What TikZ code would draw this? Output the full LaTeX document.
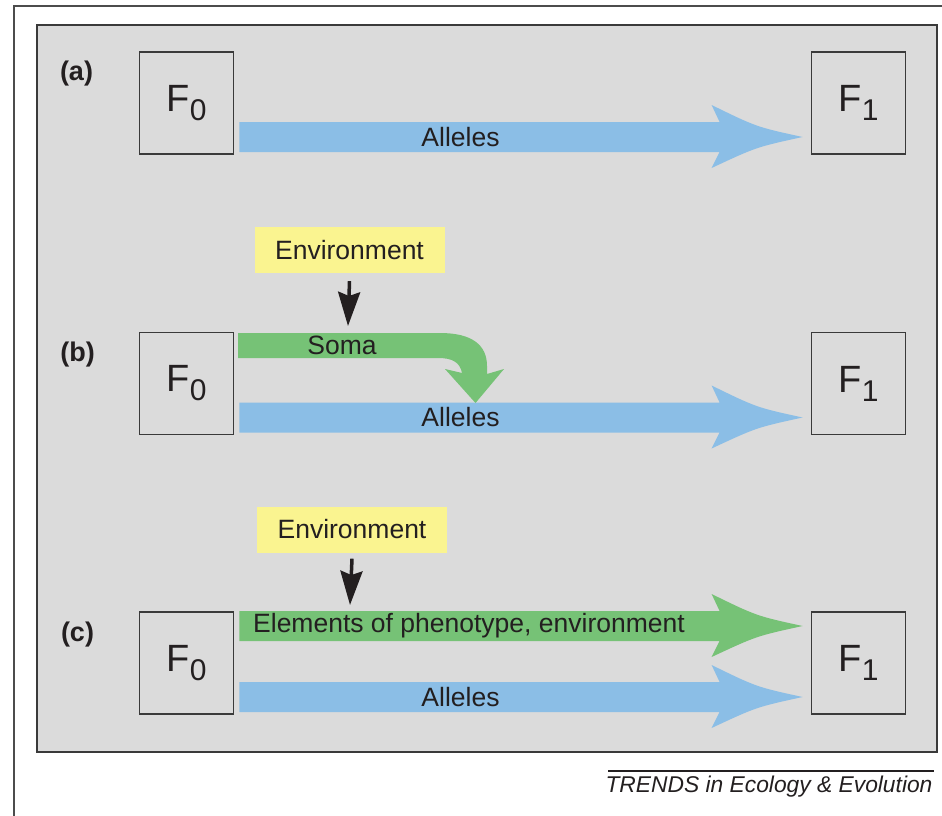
\documentclass[tikz,border=0pt]{standalone}
\usepackage{fontspec}
\setmainfont{Liberation Sans}
\usetikzlibrary{arrows.meta,calc}
\definecolor{panelgray}{HTML}{DBDBDB}
\definecolor{bluearr}{HTML}{8BBEE6}
\definecolor{greenarr}{HTML}{76C276}
\definecolor{envyellow}{HTML}{FAF490}
\definecolor{ink}{HTML}{231F20}
\definecolor{edge}{HTML}{3A3A3A}
\newcommand\labf{\fontsize{26.5}{30}\selectfont}
\newcommand\tagf{\fontsize{27}{30}\selectfont\bfseries}
\newcommand\trf{\fontsize{22.8}{26}\selectfont\itshape}
\newcommand\Fsub[1]{{\fontsize{38}{40}\selectfont F}{\fontsize{30}{32}\selectfont\raisebox{-9pt}{#1}}}
% fat arrow: colour, from node, to node, vertical offset (pt, up positive)
\newcommand\fatarrow[4]{%
  \fill[#1] let \p1=(#2.east), \p2=(#3.west), \n1={\y1+(#4pt)} in
   ({\x1+5pt},{\n1+15pt}) -- ({\x2-91pt},{\n1+15pt}) -- ({\x2-99pt},{\n1+32pt})
   .. controls ({\x2-54pt},{\n1+10pt}) .. ({\x2-8pt},{\n1+0pt})
   .. controls ({\x2-54pt},{\n1-10pt}) .. ({\x2-99pt},{\n1-31pt})
   -- ({\x2-91pt},{\n1-15pt}) -- ({\x1+5pt},{\n1-15pt}) -- cycle;}
\begin{document}
\begin{tikzpicture}[x=1pt,y=-1pt,
  fbox/.style={draw=edge,line width=1.8pt,minimum width=94pt,minimum height=102pt,inner sep=0pt,text=ink},
  envbox/.style={fill=envyellow,minimum width=190pt,minimum height=46pt,inner sep=0pt,text=ink,font=\labf},
  lbl/.style={text=ink,font=\labf,inner sep=0pt},
  tag/.style={text=ink,font=\tagf,inner sep=0pt},
  envarr/.style={line width=3.5pt,draw=ink,-{Stealth[length=34pt,width=22pt,inset=4pt]}}]
\useasboundingbox (0,0) rectangle (942,816);
\fill[white] (0,0) rectangle (942,816);
% outer frame (partly cropped)
\draw[line width=2pt,draw=gray!60!black] (14,816) -- (14,6) -- (942,6);
% panel
\draw[draw=edge,line width=2pt,fill=panelgray] (37,25) rectangle (937,752);
% tags
\node[tag] (la) at (76.5,74) {(a)};
\node[tag] (lb) at (77.5,355) {(b)};
\node[tag] (lc) at (77.5,635) {(c)};
% generation boxes
\node[fbox] (a0) at (186.5,103) {\Fsub{0}};
\node[fbox] (a1) at (858.5,103) {\Fsub{1}};
\node[fbox] (b0) at (186.5,383.5) {\Fsub{0}};
\node[fbox] (b1) at (858.5,383.5) {\Fsub{1}};
\node[fbox] (c0) at (186.5,663) {\Fsub{0}};
\node[fbox] (c1) at (858.5,663) {\Fsub{1}};
% (a)
\fatarrow{bluearr}{a0}{a1}{-34}
\node[lbl] (ta) at (460.5,137) {Alleles};
% (b)
\fatarrow{bluearr}{b0}{b1}{-34}
\fill[greenarr] (238,333) -- (440,333) .. controls (472,333) and (487,345) .. (487,366)
  -- (487,374) -- (504,369) -- (475.5,403) -- (445,369) -- (462,373)
  .. controls (460,362) and (452,358) .. (438,358) -- (238,358) -- cycle;
\node[lbl] (tb) at (460.5,417) {Alleles};
\node[lbl] (tsoma) at (342,345.5) {Soma};
\node[envbox] (envb) at (349.5,250) {Environment};
\coordinate (bsoma) at (348,326);
\draw[envarr] ([yshift=-8pt]envb.south) -- (bsoma);
% (c)
\fatarrow{greenarr}{c0}{c1}{37}
\fatarrow{bluearr}{c0}{c1}{-34}
\node[lbl] (tc) at (460.5,697) {Alleles};
\node[lbl] (tpheno) at (469,626) {Elements of phenotype, environment};
\node[envbox] (envc) at (352,529.5) {Environment};
\coordinate (cpheno) at (350,605);
\draw[envarr] ([yshift=-6pt]envc.south) -- (cpheno);
% credit
\draw[line width=1.3pt,draw=ink] (608,771) -- (934,771);
\node[text=ink,font=\trf,inner sep=0pt] (credit) at (769,787) {TRENDS in Ecology \& Evolution};
\end{tikzpicture}
\end{document}
